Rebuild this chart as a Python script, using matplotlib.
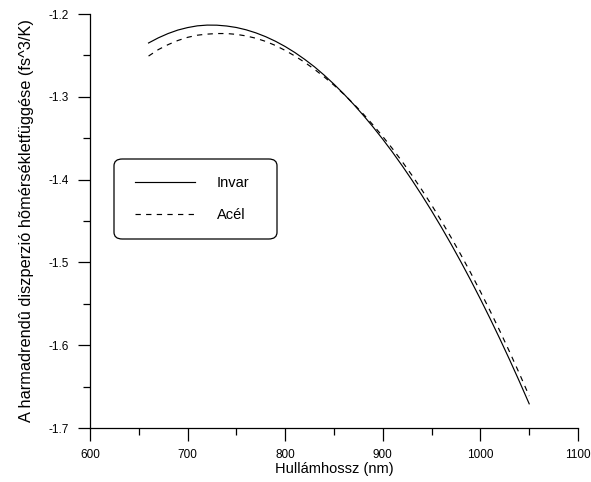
import numpy as np
import matplotlib
matplotlib.use("Agg")
import matplotlib.pyplot as plt
from matplotlib.ticker import MultipleLocator
from matplotlib.patches import FancyBboxPatch
from matplotlib.lines import Line2D

# hullámhossz (nm)
wl = [660, 670, 680, 690, 700, 710, 720, 730, 740, 750, 760, 770, 780, 790, 800,
      810, 820, 830, 840, 850, 860, 870, 880, 890, 900, 910, 920, 930, 940, 950,
      960, 970, 980, 990, 1000, 1010, 1020, 1030, 1040, 1050]
invar = [-1.2350, -1.2288, -1.2236, -1.2194, -1.2164, -1.2143, -1.2134, -1.2135,
         -1.2145, -1.2163, -1.2191, -1.2228, -1.2274, -1.2329, -1.2393, -1.2466,
         -1.2548, -1.2638, -1.2739, -1.2848, -1.2965, -1.3090, -1.3223, -1.3364,
         -1.3513, -1.3670, -1.3835, -1.4008, -1.4189, -1.4378, -1.4575, -1.4780,
         -1.4993, -1.5214, -1.5443, -1.5680, -1.5925, -1.6178, -1.6439, -1.6708]
acel = [-1.2508, -1.2430, -1.2370, -1.2320, -1.2282, -1.2256, -1.2243, -1.2236,
        -1.2236, -1.2246, -1.2265, -1.2293, -1.2331, -1.2380, -1.2440, -1.2508,
        -1.2584, -1.2668, -1.2760, -1.2860, -1.2968, -1.3084, -1.3208, -1.3340,
        -1.3480, -1.3628, -1.3785, -1.3950, -1.4124, -1.4307, -1.4499, -1.4699,
        -1.4908, -1.5125, -1.5352, -1.5587, -1.5830, -1.6083, -1.6344, -1.6614]

plt.rcParams["font.family"] = ["Liberation Sans", "DejaVu Sans"]

W, H = 591, 482
fig = plt.figure(figsize=(W/100, H/100), dpi=100)
ax = fig.add_axes([90/W, 1 - 428/H, (578-90)/W, (428-14)/H])

ax.plot(wl, invar, color="k", lw=0.85)
ax.plot(wl, acel, color="k", lw=0.85, ls=(0, (4.5, 4.5)))

ax.set_xlim(600, 1100)
ax.set_ylim(-1.7, -1.2)
ax.xaxis.set_major_locator(MultipleLocator(100))
ax.xaxis.set_minor_locator(MultipleLocator(50))
ax.yaxis.set_major_locator(MultipleLocator(0.1))
ax.yaxis.set_minor_locator(MultipleLocator(0.05))
ax.yaxis.set_major_formatter(plt.FuncFormatter(lambda v, p: "%.1f" % v))

for s in ["top", "right"]:
    ax.spines[s].set_visible(False)
ax.spines["left"].set_linewidth(0.9)
ax.spines["bottom"].set_linewidth(0.9)
ax.tick_params(which="major", direction="out", length=9, width=0.9, pad=6, labelsize=8.5)
ax.tick_params(which="minor", direction="out", length=5, width=0.9)

ax.set_xlabel("Hullámhossz (nm)", fontsize=10.5, labelpad=1)
ax.set_ylabel("A harmadrendû diszperzió hõmérsékletfüggése (fs^3/K)", fontsize=11.8, labelpad=11)

# jelmagyarázat keret
box = FancyBboxPatch((114/W, 1 - 239/H), (277-114)/W, (239-159)/H,
                     boxstyle="round,pad=0,rounding_size=0.014",
                     transform=fig.transFigure, facecolor="white",
                     edgecolor="k", lw=0.9, zorder=5)
fig.patches.append(box)
handles = [Line2D([], [], color="k", lw=0.85),
           Line2D([], [], color="k", lw=0.85, ls=(0, (4.5, 4.5)))]
leg = fig.legend(handles, ["Invar", "Acél"], loc="center left",
                 bbox_to_anchor=(135/W, 1 - 199/H), frameon=False,
                 fontsize=10.5, handlelength=4.1, handletextpad=1.5,
                 labelspacing=1.25, borderpad=0, borderaxespad=0)
leg.set_zorder(6)

fig.savefig("out.png", dpi=100)
